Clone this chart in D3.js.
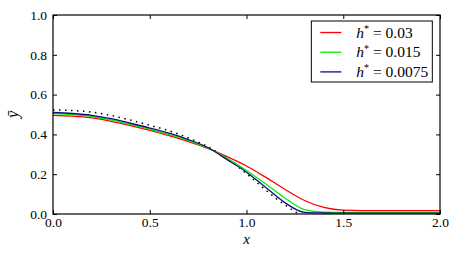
<!DOCTYPE html>
<html>
<head>
<meta charset="utf-8">
<script src="https://cdn.jsdelivr.net/npm/d3@7"></script>
</head>
<body style="margin:0;background:#fff">
<script>
const xs = [0.0, 0.1, 0.2, 0.3, 0.4, 0.5, 0.6, 0.7, 0.8, 0.9, 1.0, 1.1, 1.2, 1.3, 1.4, 1.5, 1.6, 1.7, 1.8, 1.9, 2.0];

const red = [0.496, 0.492, 0.483, 0.466, 0.444, 0.420, 0.394, 0.364, 0.330, 0.288, 0.241, 0.184, 0.123, 0.068, 0.033, 0.019, 0.017, 0.017, 0.017, 0.017, 0.017];
const green = [0.504, 0.499, 0.490, 0.473, 0.450, 0.426, 0.400, 0.369, 0.332, 0.280, 0.219, 0.151, 0.079, 0.022, 0.009, 0.008, 0.008, 0.008, 0.008, 0.008, 0.008];
const blue = [0.510, 0.505, 0.496, 0.479, 0.456, 0.432, 0.406, 0.374, 0.334, 0.273, 0.210, 0.133, 0.056, 0.008, 0.005, 0.004, 0.004, 0.004, 0.004, 0.004, 0.004];

const dotX = [0.0, 0.1, 0.2, 0.3, 0.4, 0.5, 0.6, 0.7, 0.8, 0.9, 1.0, 1.1, 1.15, 1.2, 1.25, 1.27];
const dotY = [0.523, 0.520, 0.512, 0.495, 0.472, 0.446, 0.418, 0.382, 0.338, 0.278, 0.203, 0.120, 0.080, 0.045, 0.012, 0.0];

const series = [
    { label: '0.03', color: '#ff0000', values: red },
    { label: '0.015', color: '#00ee00', values: green },
    { label: '0.0075', color: '#10107a', values: blue }
];

const xTicks = [0, 0.5, 1.0, 1.5, 2.0];
const yTicks = [0, 0.2, 0.4, 0.6, 0.8, 1.0];

const font = '"Liberation Serif"';

const svgWidth = 459;
const svgHeight = 253;
const margin = { top: 15, bottom: 39, left: 53, right: 19 };
const width = svgWidth - margin.left - margin.right;
const height = svgHeight - margin.top - margin.bottom;

const svg = d3.select('body')
    .append('svg')
    .attr('width', svgWidth)
    .attr('height', svgHeight)
    .append('g')
    .attr('transform', `translate(${margin.left}, ${margin.top})`);

const x = d3.scaleLinear().domain([0, 2]).range([0, width]);
const y = d3.scaleLinear().domain([0, 1]).range([height, 0]);

svg.append('defs').append('clipPath').attr('id', 'clip')
    .append('rect').attr('width', width).attr('height', height);

const line = d3.line()
    .x(d => x(d[0]))
    .y(d => y(d[1]))
    .curve(d3.curveMonotoneX);

const plot = svg.append('g').attr('clip-path', 'url(#clip)');

// dotted reference curve
plot.append('path')
    .datum(dotX.map((v, i) => [v, dotY[i]]))
    .attr('d', line)
    .attr('fill', 'none')
    .attr('stroke', 'black')
    .attr('stroke-width', 1.5)
    .attr('stroke-dasharray', '1.5,4.5');

series.forEach(s => {
    plot.append('path')
        .datum(xs.map((v, i) => [v, s.values[i]]))
        .attr('d', line)
        .attr('fill', 'none')
        .attr('stroke', s.color)
        .attr('stroke-width', 1.3);
});

// axes, ticks inward on all four sides
const fmt = d3.format('.1f');
const styleAxis = g => {
    g.attr('font-family', null);
    g.select('.domain').remove();
    g.selectAll('line').attr('stroke', 'black').attr('stroke-width', 1);
    g.selectAll('text')
        .style('font-family', font)
        .style('font-size', '13.5px')
        .attr('fill', 'black');
};

svg.append('g')
    .attr('transform', `translate(0,${height})`)
    .call(d3.axisBottom(x).tickValues(xTicks).tickFormat(fmt).tickSizeInner(-4).tickPadding(3.5))
    .call(styleAxis);

svg.append('g')
    .call(d3.axisTop(x).tickValues(xTicks).tickFormat('').tickSizeInner(-4))
    .call(styleAxis);

svg.append('g')
    .call(d3.axisLeft(y).tickValues(yTicks).tickFormat(fmt).tickSizeInner(-4).tickPadding(6))
    .call(styleAxis);

svg.append('g')
    .attr('transform', `translate(${width},0)`)
    .call(d3.axisRight(y).tickValues(yTicks).tickFormat('').tickSizeInner(-4))
    .call(styleAxis);

svg.append('rect')
    .attr('width', width)
    .attr('height', height)
    .attr('fill', 'none')
    .attr('stroke', 'black')
    .attr('stroke-width', 1.2);

// axis labels
svg.append('text')
    .attr('x', width / 2)
    .attr('y', height + 29.5)
    .attr('text-anchor', 'middle')
    .style('font-family', font)
    .style('font-size', '15px')
    .style('font-style', 'italic')
    .text('x');

svg.append('text')
    .attr('transform', `translate(-35,${y(0.5)}) rotate(-90)`)
    .attr('text-anchor', 'middle')
    .style('font-family', font)
    .style('font-size', '16px')
    .style('font-style', 'italic')
    .text('\u0233');

// legend
const legend = svg.append('g').attr('transform', `translate(${x(1.335)}, 6)`);
legend.append('rect')
    .attr('width', 121)
    .attr('height', 61)
    .attr('fill', 'white')
    .attr('stroke', 'black')
    .attr('stroke-width', 1);

series.forEach((s, i) => {
    const row = legend.append('g').attr('transform', `translate(0, ${11.5 + i * 19.7})`);
    row.append('line')
        .attr('x1', 9).attr('x2', 30)
        .attr('stroke', s.color)
        .attr('stroke-width', 1.3);
    const t = row.append('text')
        .attr('x', 45)
        .attr('y', 5)
        .style('font-family', font)
        .style('font-size', '15.5px');
    t.append('tspan').style('font-style', 'italic').text('h');
    t.append('tspan').attr('dy', -5.5).style('font-size', '10px').text('*');
    t.append('tspan').attr('dy', 5.5).text(' = ' + s.label);
});
</script>
</body>
</html>
